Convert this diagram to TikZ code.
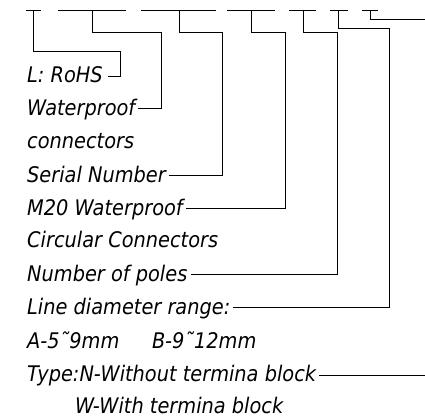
\documentclass[tikz,border=0pt]{standalone}
\usepackage{fontspec}
\setmainfont{DejaVu Sans}
\usetikzlibrary{calc}

\begin{document}
\begin{tikzpicture}[x=1pt, y=-1pt,
  txt/.style={anchor=base west, inner sep=0pt, xscale=0.9, transform shape,
              font=\fontsize{21.5}{25}\selectfont\itshape},
  lead/.style={line width=0.9pt}]
\useasboundingbox (0,0) rectangle (425,417);
% label column
\node[txt] (rohs)   at (27,83)  {L: RoHS};
\node[txt] (wp)     at (27,116) {Waterproof};
\node[txt] (conn)   at (27,148) {connectors};
\node[txt] (serial) at (27,182) {Serial Number};
\node[txt] (mtw)    at (27,215) {M20 Waterproof};
\node[txt] (circ)   at (27,247) {Circular Connectors};
\node[txt] (poles)  at (27,281) {Number of poles};
\node[txt] (diam)   at (27,314) {Line diameter range:};
\node[txt] (rngA)   at (27,348) {A-5˜9mm};
\node[txt] (rngB)   at (152,348) {B-9˜12mm};
\node[txt] (type)   at (27,381) {Type:N-Without termina block};
\node[txt] (typeW)  at (75,413) {W-With termina block};
% underlines of the part code
\foreach \a/\b/\t [count=\i] in {26/41/33, 58/126/92, 141/216/179,
    227/275/251, 289/316/303, 330/348/338, 362/378/370}{
  \draw[lead] (\a,10) -- (\b,10);
  \coordinate (tap\i) at (\t,10);
}
\coordinate (offR) at (425,0);
% leaders from code to label
\draw[lead] (tap1) |- (120,51) |- ([xshift=5pt,yshift=7pt]rohs.base east);
\draw[lead] (tap2) |- (161,32) |- ([xshift=3pt,yshift=8pt]wp.base east);
\draw[lead] (tap3) |- (222,32) |- ([xshift=3pt,yshift=7pt]serial.base east);
\draw[lead] (tap4) |- (285,32) |- ([xshift=3pt,yshift=7pt]mtw.base east);
\draw[lead] (tap5) |- (337,32) |- ([xshift=3pt,yshift=7pt]poles.base east);
\draw[lead] (tap6) |- (389,28) |- ([xshift=3pt,yshift=7pt]diam.base east);
\draw[lead] (tap7) |- (offR |- 0,19);
\draw[lead] ([xshift=3pt,yshift=6pt]type.base east) coordinate (tt) -- (tt -| offR);
\end{tikzpicture}
\end{document}
